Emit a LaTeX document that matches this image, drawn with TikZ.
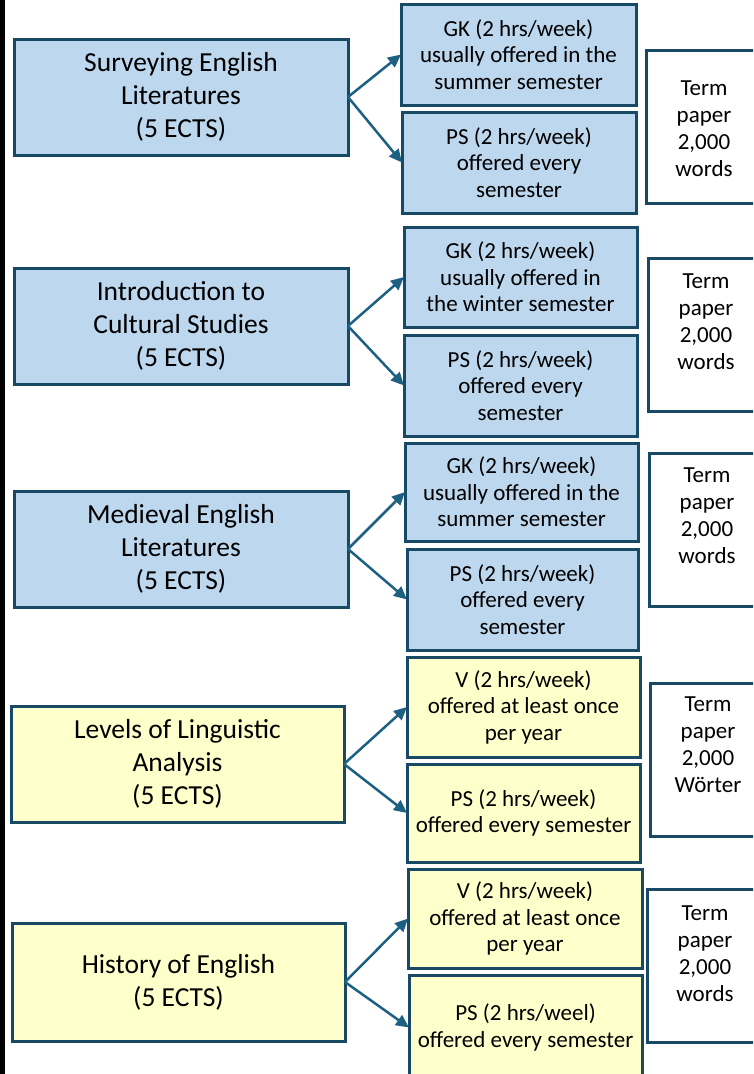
\documentclass[tikz,border=0pt]{standalone}
\usepackage{fontspec}
\setmainfont{Carlito}
\usetikzlibrary{arrows.meta}
\definecolor{boxblue}{RGB}{189,215,238}
\definecolor{boxyellow}{RGB}{255,255,204}
\definecolor{edgeblue}{RGB}{24,74,102}
\definecolor{arrowblue}{RGB}{30,96,130}
\begin{document}
\begin{tikzpicture}[x=1pt,y=-1pt,
  box/.style={draw=edgeblue,line width=3pt,rectangle,outer sep=0pt,inner sep=0pt,align=center,text=black},
  lbox/.style={box,minimum width=334pt,minimum height=116pt,font=\fontsize{27.5}{33}\selectfont},
  mbox/.style={box,font=\fontsize{23}{26.5}\selectfont},
  rbox/.style={box,fill=white,minimum width=116pt,minimum height=153pt},
  rtext/.style={align=center,inner sep=0pt,text=black,font=\fontsize{23}{27}\selectfont},
  bluefill/.style={fill=boxblue},
  yellowfill/.style={fill=boxyellow},
  link/.style={draw=arrowblue,line width=2.5pt,-{Triangle[length=13pt,width=12pt]}}]
\useasboundingbox (0,0) rectangle (753,1074);
\clip (0,0) rectangle (753,1074);
\fill[black] (0,0) rectangle (5,1074);

% group 1
\node[lbox,bluefill] (L1) at (181,97) {Surveying English\\Literatures\\(5 ECTS)};
\node[mbox,bluefill,minimum width=235pt,minimum height=101pt] (M1a) at (518.5,54.5) {GK (2 hrs/week)\\usually offered in the\\summer semester};
\node[mbox,bluefill,minimum width=234pt,minimum height=101pt] (M1b) at (519,162.5) {PS (2 hrs/week)\\offered every\\semester};
\node[rbox,label={[rtext,yshift=-2pt]center:Term\\paper\\2,000\\words}] (R1) at (704,126.5) {};
\draw[link] (L1.east) -- (M1a.west);
\draw[link] (L1.east) -- (M1b.west);

% group 2
\node[lbox,bluefill] (L2) at (181,326) {Introduction to\\Cultural Studies\\(5 ECTS)};
\node[mbox,bluefill,minimum width=233pt,minimum height=100pt] (M2a) at (520.5,277) {GK (2 hrs/week)\\usually offered in\\the winter semester};
\node[mbox,bluefill,minimum width=233pt,minimum height=101pt] (M2b) at (520.5,385.5) {PS (2 hrs/week)\\offered every\\semester};
\node[rbox,label={[rtext,yshift=12.5pt]center:Term\\paper\\2,000\\words}] (R2) at (706,334.5) {};
\draw[link] (L2.east) -- (M2a.west);
\draw[link] (L2.east) -- (M2b.west);

% group 3
\node[lbox,bluefill] (L3) at (181,549) {Medieval English\\Literatures\\(5 ECTS)};
\node[mbox,bluefill,minimum width=233pt,minimum height=98pt] (M3a) at (521.5,492) {GK (2 hrs/week)\\usually offered in the\\summer semester};
\node[mbox,bluefill,minimum width=231pt,minimum height=101pt] (M3b) at (522.5,599.5) {PS (2 hrs/week)\\offered every\\semester};
\node[rbox,label={[rtext,yshift=14pt]center:Term\\paper\\2,000\\words}] (R3) at (707,530) {};
\draw[link] (L3.east) -- (M3a.west);
\draw[link] (L3.east) -- (M3b.west);

% group 4
\node[lbox,yellowfill,minimum width=333pt] (L4) at (177.5,764) {Levels of Linguistic\\Analysis\\(5 ECTS)};
\node[mbox,yellowfill,minimum width=233pt,minimum height=100pt] (M4a) at (523.5,707) {V (2 hrs/week)\\offered at least once\\per year};
\node[mbox,yellowfill,minimum width=233pt,minimum height=98pt] (M4b) at (523.5,813) {PS (2 hrs/week)\\offered every semester};
\node[rbox,label={[rtext,yshift=15pt]center:Term\\paper\\2,000\\Wörter}] (R4) at (708,759.5) {};
\draw[link] (L4.east) -- (M4a.west);
\draw[link] (L4.east) -- (M4b.west);

% group 5
\node[lbox,yellowfill,minimum width=333pt,minimum height=118pt] (L5) at (178.5,982) {History of English\\(5 ECTS)};
\node[mbox,yellowfill,minimum width=234pt,minimum height=99pt] (M5a) at (525,918.5) {V (2 hrs/week)\\offered at least once\\per year};
\node[mbox,yellowfill,minimum width=233pt,minimum height=105pt] (M5b) at (525.5,1027.5) {PS (2 hrs/weel)\\offered every semester};
\node[rbox,label={[rtext,yshift=12pt]center:Term\\paper\\2,000\\words}] (R5) at (705,965.5) {};
\draw[link] (L5.east) -- (M5a.west);
\draw[link] (L5.east) -- (M5b.west);
\end{tikzpicture}
\end{document}
